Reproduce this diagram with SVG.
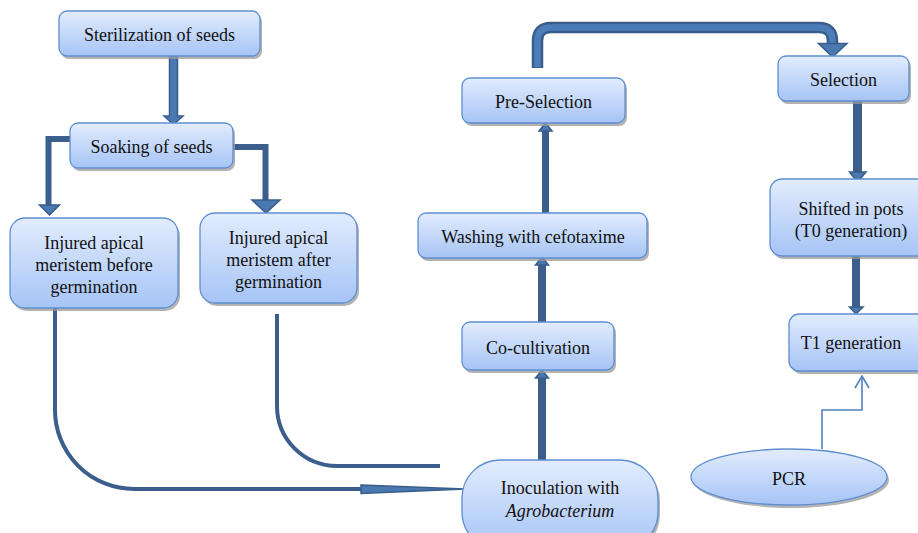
<svg xmlns="http://www.w3.org/2000/svg" width="918" height="533" viewBox="0 0 918 533">
<defs>
<linearGradient id="g" x1="0" y1="0" x2="0" y2="1">
<stop offset="0" stop-color="#e2ecfd"/>
<stop offset="1" stop-color="#a6c4f6"/>
</linearGradient>
<style>
.box{fill:url(#g);stroke:#5f8ed0;stroke-width:1.3}
.sh{fill:#9a9a9a;opacity:0.75}
text{font-family:'Liberation Serif','Times New Roman',Times,serif;font-size:18px;fill:#111;text-anchor:middle}
.ln{fill:none;stroke:#3b5e8c;stroke-width:6;stroke-linejoin:miter}
.cv{fill:none;stroke:#3b5e8c;stroke-width:4}
.hd{fill:#4a78b0;stroke:#385d8a;stroke-width:1.5;stroke-linejoin:miter}
.dk{fill:#3b5e8c}
</style>
</defs>
<rect width="918" height="533" fill="#fff"/>

<g id="connectors">
<polygon class="hd" points="169.5,56 177.5,56 177.5,116 183,116 173.5,124.5 164,116 169.5,116"/>
<path class="ln" d="M70 139 H48.5 V206"/>
<polygon class="hd" points="39.5,205 59.5,205 49.5,215"/>
<path class="ln" d="M233 147 H265.5 V201"/>
<polygon class="hd" points="252,200 280,200 266,213"/>
<path d="M537.5 68 V41 Q537.5 27.5 551 27.5 H819 Q832.5 27.5 832.5 41 V44" fill="none" stroke="#385d8a" stroke-width="11.5"/>
<path d="M537.5 67 V41 Q537.5 27.5 551 27.5 H819 Q832.5 27.5 832.5 41 V46" fill="none" stroke="#4d7db8" stroke-width="6.5"/>
<polygon class="hd" points="818.5,43.5 847,43.5 832.5,57"/>
<rect class="dk" x="853" y="101" width="9" height="72"/>
<polygon class="hd" points="849.5,172 866,172 857.5,182"/>
<rect class="dk" x="852" y="256" width="8" height="52"/>
<polygon class="hd" points="849.5,307 863,307 856,314"/>
<rect class="dk" x="542" y="130" width="7" height="83"/>
<polygon class="hd" points="539,131 552,131 545.5,123"/>
<rect class="dk" x="538" y="264" width="8" height="58"/>
<polygon class="hd" points="535.5,265 548.5,265 542,257"/>
<rect class="dk" x="538" y="377" width="8" height="83"/>
<polygon class="hd" points="535.5,378 548.5,378 542,370"/>
<path class="cv" d="M55 308 V410 A79 79 0 0 0 134 489 H365"/>
<polygon class="hd" points="361,485 465,489 361,493.5"/>
<path class="cv" d="M277 314 V406 A60 60 0 0 0 337 466 H440"/>
<path d="M822 449 V410 H862 V376" fill="none" stroke="#4f81bd" stroke-width="1.6"/>
<polyline points="855,388 862,376 869,388" fill="none" stroke="#4f81bd" stroke-width="1.6"/>
</g>

<g id="sterilization">
<rect class="sh" x="61" y="14" width="201" height="45" rx="8"/>
<rect class="box" x="59" y="11" width="201" height="45" rx="8"/>
<text x="159.5" y="41">Sterilization of seeds</text>
</g>
<g id="soaking">
<rect class="sh" x="72" y="126" width="163" height="45" rx="8"/>
<rect class="box" x="70" y="123" width="163" height="45" rx="8"/>
<text x="151.5" y="153">Soaking of seeds</text>
</g>
<g id="injured-before">
<rect class="sh" x="12" y="221" width="168" height="90" rx="15"/>
<rect class="box" x="10" y="218" width="168" height="90" rx="15"/>
<text x="94" y="249">Injured apical</text>
<text x="94" y="271">meristem before</text>
<text x="94" y="293">germination</text>
</g>
<g id="injured-after">
<rect class="sh" x="202" y="216" width="157" height="90" rx="15"/>
<rect class="box" x="200" y="213" width="157" height="90" rx="15"/>
<text x="278.5" y="244">Injured apical</text>
<text x="278.5" y="266">meristem after</text>
<text x="278.5" y="288">germination</text>
</g>
<g id="pre-selection">
<rect class="sh" x="464" y="81" width="163" height="45" rx="8"/>
<rect class="box" x="462" y="78" width="163" height="45" rx="8"/>
<text x="543.5" y="108">Pre-Selection</text>
</g>
<g id="washing">
<rect class="sh" x="420" y="216" width="229" height="45" rx="8"/>
<rect class="box" x="418" y="213" width="229" height="45" rx="8"/>
<text x="533" y="243">Washing with cefotaxime</text>
</g>
<g id="co-cultivation">
<rect class="sh" x="464" y="325" width="152" height="48" rx="8"/>
<rect class="box" x="462" y="322" width="152" height="48" rx="8"/>
<text x="538" y="354">Co-cultivation</text>
</g>
<g id="inoculation">
<rect class="sh" x="464" y="463" width="196" height="90" rx="38"/>
<rect class="box" x="462" y="460" width="196" height="90" rx="38"/>
<text x="560" y="494">Inoculation with</text>
<text x="560" y="517" font-style="italic">Agrobacterium</text>
</g>
<g id="selection">
<rect class="sh" x="780" y="59" width="131" height="45" rx="8"/>
<rect class="box" x="778" y="56" width="131" height="45" rx="8"/>
<text x="843.5" y="86">Selection</text>
</g>
<g id="shifted">
<rect class="sh" x="772" y="182" width="164" height="77" rx="12"/>
<rect class="box" x="770" y="179" width="164" height="77" rx="12"/>
<text x="851" y="215">Shifted in pots</text>
<text x="851" y="237">(T0 generation)</text>
</g>
<g id="t1">
<rect class="sh" x="791" y="317" width="140" height="57" rx="10"/>
<rect class="box" x="789" y="314" width="140" height="57" rx="10"/>
<text x="851" y="349">T1 generation</text>
</g>
<g id="pcr">
<ellipse class="sh" cx="791" cy="480" rx="98" ry="28"/>
<ellipse class="box" cx="789" cy="477" rx="98" ry="28"/>
<text x="789" y="485">PCR</text>
</g>
</svg>
